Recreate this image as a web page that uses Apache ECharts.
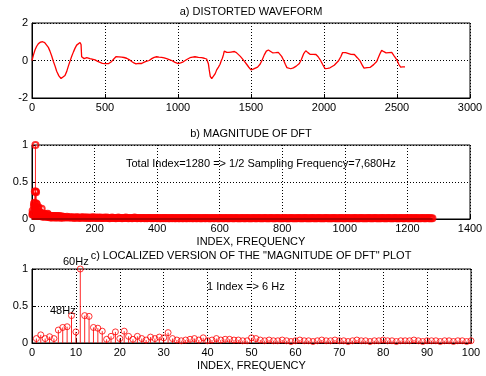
<!DOCTYPE html>
<html><head><meta charset="utf-8">
<script src="https://cdn.jsdelivr.net/npm/echarts@6/dist/echarts.min.js"></script>
<style>html,body{margin:0;padding:0;background:#fff}#c{width:486px;height:376px}</style>
</head><body><div id="c"></div>
<script>
// ---- Data ----
var titles = ['a) DISTORTED WAVEFORM', 'b) MAGNITUDE OF DFT', 'c) LOCALIZED VERSION OF THE "MAGNITUDE OF DFT" PLOT'];
var xAxisName = 'INDEX, FREQUENCY';
var notes = ['Total Index=1280 => 1/2 Sampling Frequency=7,680Hz', '1 Index => 6 Hz', '60Hz', '48Hz'];

var waveX = [0,10,21,32,43,58,73,87,100,112,123,135,146,158,169,184,199,212,226,238,249,261,272,284,295,306,317,329,336,340,
344,348,352,357,362,368,375,385,397,410,432,450,466,482,500,512,523,535,546,560,575,595,614,630,648,665,683,698,712,730,751,765,781,803,
820,837,854,870,888,905,922,940,957,980,1002,1018,1036,1060,1082,1100,1116,1140,1162,1180,1196,1202,1208,1214,1221,1231,1244,1255,1265,1277,1288,1297,
1304,1311,1317,1325,1334,1348,1363,1386,1400,1413,1427,1440,1455,1470,1485,1500,1515,1527,1545,1562,1575,1591,1605,1619,1632,1648,1668,1687,1700,1710,
1721,1735,1746,1756,1772,1790,1810,1831,1845,1860,1875,1890,1904,1925,1945,1960,1973,1990,2007,2025,2041,2070,2098,2115,2127,2137,2148,2160,2185,2208,
2228,2247,2262,2274,2295,2315,2340,2361,2373,2384,2395,2410,2425,2445,2464,2480,2498,2512,2525,2540,2555];
var waveY = [0,0.3,0.57,0.76,0.89,0.98,1.0,0.95,0.85,0.7,0.5,0.24,-0.04,-0.3,-0.57,-0.82,-0.96,-0.92,-0.8,-0.58,-0.3,-0.02,0.23,0.46,0.66,0.82,0.92,0.96,0.85,0.2,
0.25,0.12,0.2,0.1,0.17,0.12,0.15,0.1,0.1,0.06,0.03,-0.05,-0.1,-0.15,-0.17,-0.15,-0.17,-0.12,-0.05,0.08,0.2,0.19,0.18,0.16,0.12,0.05,-0.05,-0.13,-0.18,-0.15,-0.16,-0.1,-0.05,0.0,
0.1,0.17,0.2,0.18,0.17,0.14,0.1,0.05,0.0,-0.1,-0.17,-0.13,-0.07,0.05,0.15,0.18,0.2,0.17,0.15,0.12,0.08,0.0,-0.17,-0.5,-0.85,-0.97,-0.9,-0.7,-0.5,-0.35,-0.2,0.0,
0.12,0.3,0.5,0.47,0.43,0.43,0.45,0.48,0.42,0.34,0.22,0.1,-0.05,-0.2,-0.36,-0.5,-0.46,-0.43,-0.35,-0.2,0.0,0.3,0.5,0.56,0.48,0.41,0.42,0.43,0.35,0.22,
0.05,-0.2,-0.38,-0.48,-0.44,-0.39,-0.3,-0.16,0.05,0.35,0.52,0.42,0.33,0.33,0.32,0.2,0.05,-0.2,-0.43,-0.42,-0.39,-0.25,-0.03,0.2,0.42,0.5,0.42,0.34,0.33,0.32,
0.15,-0.02,-0.25,-0.41,-0.38,-0.37,-0.22,-0.05,0.17,0.37,0.54,0.47,0.41,0.42,0.43,0.25,0.05,-0.2,-0.35,-0.34,-0.34];

// DFT magnitude, indices 1..100
var dftLocal = [0.06,0.11,0.06,0.085,0.06,0.175,0.21,0.22,0.37,0.15,
1.0,0.37,0.36,0.21,0.20,0.16,0.05,0.09,0.15,0.06,
0.16,0.09,0.05,0.09,0.06,0.04,0.08,0.06,0.08,0.07,
0.14,0.06,0.04,0.03,0.04,0.05,0.06,0.04,0.07,0.03,
0.04,0.06,0.04,0.05,0.05,0.04,0.04,0.03,0.03,0.07,
0.06,0.04,0.03,0.04,0.03,0.03,0.04,0.03,0.02,0.03,
0.04,0.03,0.03,0.02,0.03,0.04,0.03,0.03,0.04,0.03,
0.03,0.02,0.03,0.04,0.03,0.03,0.02,0.03,0.03,0.04,
0.03,0.03,0.02,0.03,0.03,0.03,0.04,0.03,0.02,0.03,
0.03,0.03,0.02,0.03,0.03,0.02,0.03,0.03,0.02,0.03];
// DFT magnitude tail, every 4th index from 104 to 1280
var dftTail = [0.025,0.02,0.03,0.02,0.025,0.02,0.02,0.025,0.015,0.02,0.025,0.02,0.015,0.02,0.02,0.025,0.015,0.02,0.02,0.015,
0.02,0.015,0.02,0.025,0.015,0.02,0.015,0.02,0.015,0.02,0.015,0.015,0.02,0.015,0.02,0.015,0.01,0.015,0.02,0.015,
0.015,0.01,0.015,0.02,0.015,0.015,0.01,0.015,0.015,0.02,0.015,0.01,0.015,0.015,0.01,0.015,0.02,0.015,0.01,0.015,
0.015,0.01,0.015,0.015,0.01,0.015,0.01,0.015,0.015,0.01,0.015,0.01,0.015,0.015,0.01,0.015,0.01,0.01,0.015,0.01,
0.015,0.01,0.015,0.01,0.01,0.015,0.01,0.015,0.01,0.01,0.015,0.01,0.01,0.015,0.01,0.01,0.015,0.01,0.01,0.015,
0.01,0.015,0.01,0.01,0.015,0.01,0.01,0.015,0.01,0.01,0.01,0.015,0.01,0.01,0.015,0.01,0.01,0.01,0.015,0.01,
0.01,0.015,0.01,0.01,0.01,0.015,0.01,0.01,0.01,0.015,0.01,0.01,0.01,0.015,0.01,0.01,0.01,0.015,0.01,0.01,
0.01,0.01,0.015,0.01,0.01,0.01,0.015,0.01,0.01,0.01,0.01,0.015,0.01,0.01,0.01,0.015,0.01,0.01,0.01,0.01,
0.015,0.01,0.01,0.01,0.01,0.015,0.01,0.01,0.01,0.01,0.015,0.01,0.01,0.01,0.01,0.01,0.015,0.01,0.01,0.01,
0.01,0.015,0.01,0.01,0.01,0.01,0.01,0.015,0.01,0.01,0.01,0.01,0.015,0.01,0.01,0.01,0.01,0.01,0.015,0.01,
0.01,0.01,0.01,0.015,0.01,0.01,0.01,0.01,0.01,0.015,0.01,0.01,0.01,0.01,0.01,0.015,0.01,0.01,0.01,0.01,
0.01,0.015,0.01,0.01,0.01,0.01,0.015,0.01,0.01,0.01,0.01,0.01,0.015,0.01,0.01,0.01,0.01,0.015,0.01,0.01,
0.01,0.01,0.01,0.015,0.01,0.01,0.01,0.01,0.015,0.01,0.01,0.01,0.01,0.01,0.015,0.01,0.01,0.01,0.01,0.015,
0.01,0.01,0.01,0.01,0.015,0.01,0.01,0.01,0.01,0.015,0.01,0.01,0.01,0.015,0.01,0.01,0.01,0.015,0.01,0.01,
0.01,0.015,0.01,0.01,0.01,0.01,0.015,0.01,0.01,0.01,0.015,0.01,0.01,0.01,0.01,0.015,0.01,0.01,0.01,0.015];
var tailStart = 104, tailStep = 4;

// ---- Build ----
var wave = waveX.map(function(x,i){return [x, waveY[i]];});
var local = dftLocal.map(function(v,i){return [i+1, v];});
var full = local.slice();
dftTail.forEach(function(v,i){ var ix = tailStart + i*tailStep; if (ix <= 1280) full.push([ix, v]); });

var FONT = '"Liberation Sans", Arial, sans-serif';
var RED = '#ff0000';

function stemRender(params, api){
  var p0 = api.coord([api.value(0), 0]);
  var p1 = api.coord([api.value(0), api.value(1)]);
  return {type:'line', shape:{x1:p0[0], y1:p0[1], x2:p1[0], y2:p1[1]},
          style:{stroke:RED, lineWidth:1, opacity:0.85}};
}
function fmt(v){ return String(v); }
function xAx(idx, min, max, interval, name){
  return {gridIndex:idx, type:'value', min:min, max:max, interval:interval,
    name:name || '', nameLocation:'middle', nameGap:17,
    nameTextStyle:{fontFamily:FONT, fontSize:11, color:'#000'},
    axisLine:{show:true, onZero:false, lineStyle:{color:'#000', width:1}},
    axisTick:{show:true, inside:true, length:4, lineStyle:{color:'#000'}},
    axisLabel:{fontFamily:FONT, fontSize:11, color:'#000', margin:4, formatter:fmt},
    splitLine:{show:true, lineStyle:{color:'#000', type:[1,2], width:1}}};
}
function yAx(idx, min, max, interval){
  return {gridIndex:idx, type:'value', min:min, max:max, interval:interval,
    axisLine:{show:true, onZero:false, lineStyle:{color:'#000', width:1}},
    axisTick:{show:true, inside:true, length:4, lineStyle:{color:'#000'}},
    axisLabel:{fontFamily:FONT, fontSize:11, color:'#000', margin:4, formatter:fmt},
    splitLine:{show:true, lineStyle:{color:'#000', type:[1,2], width:1}}};
}
var hollow = {color:'rgba(255,255,255,0)', borderColor:RED, borderWidth:1};
var hollowThick = {color:'rgba(255,255,255,0)', borderColor:RED, borderWidth:2};
var titleStyle = {fontFamily:FONT, fontSize:11, fontWeight:'normal', color:'#000'};

var chart = echarts.init(document.getElementById('c'), null, {renderer:'canvas'});
chart.setOption({
  animation:false,
  backgroundColor:'#fff',
  title:[
    {text:titles[0], left:251, top:6, padding:0, textAlign:'center', textStyle:titleStyle},
    {text:titles[1], left:251, top:128, padding:0, textAlign:'center', textStyle:titleStyle},
    {text:titles[2], left:251, top:250, padding:0, textAlign:'center', textStyle:titleStyle}
  ],
  grid:[
    {left:32, top:23, width:438, height:75, show:true, borderColor:'#000', borderWidth:1},
    {left:32, top:145, width:438, height:74, show:true, borderColor:'#000', borderWidth:1},
    {left:32, top:269, width:439, height:74, show:true, borderColor:'#000', borderWidth:1}
  ],
  xAxis:[xAx(0,0,3000,500), xAx(1,0,1400,200,xAxisName), xAx(2,0,100,10,xAxisName)],
  yAxis:[yAx(0,-2,2,2), yAx(1,0,1,0.5), yAx(2,0,1,0.5)],
  graphic:[
    {type:'text', left:126, top:158, style:{text:notes[0], font:'11px '+FONT, fill:'#000'}},
    {type:'text', left:207, top:281, style:{text:notes[1], font:'11px '+FONT, fill:'#000'}},
    {type:'text', left:63, top:256, style:{text:notes[2], font:'11px '+FONT, fill:'#000'}},
    {type:'text', left:50, top:305, style:{text:notes[3], font:'11px '+FONT, fill:'#000'}}
  ],
  series:[
    {type:'line', xAxisIndex:0, yAxisIndex:0, data:wave, showSymbol:false, lineStyle:{color:RED, width:1.3}},
    {type:'custom', xAxisIndex:1, yAxisIndex:1, data:full, renderItem:stemRender, encode:{x:0,y:1},
      markLine:{silent:true, symbol:'none', label:{show:false}, lineStyle:{color:'#b00000', width:2, type:'solid'},
        data:[[{coord:[0,0]},{coord:[1280,0]}]]}},
    {type:'scatter', xAxisIndex:1, yAxisIndex:1, data:full, symbol:'circle', symbolSize:6, itemStyle:hollowThick},
    {type:'custom', xAxisIndex:2, yAxisIndex:2, data:local, renderItem:stemRender, encode:{x:0,y:1}},
    {type:'scatter', xAxisIndex:2, yAxisIndex:2, data:local, symbol:'circle', symbolSize:6, itemStyle:hollow}
  ]
});
</script></body></html>
